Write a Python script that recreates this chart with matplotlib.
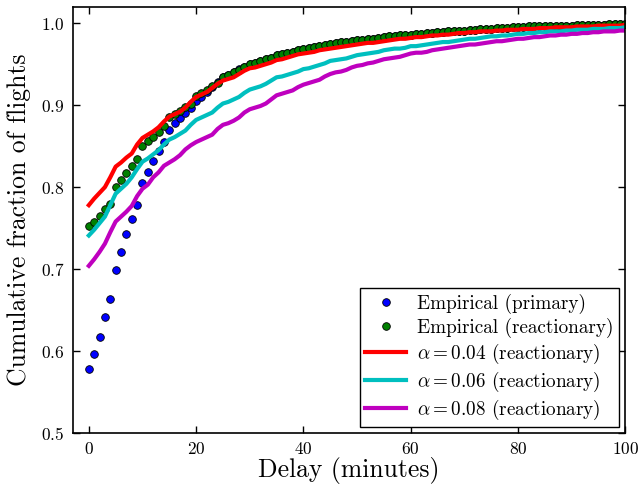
import numpy as np
import matplotlib
matplotlib.use("Agg")
import matplotlib.pyplot as plt

plt.rcParams['font.family'] = 'serif'
plt.rcParams['font.serif'] = ['cmr10', 'DejaVu Serif']
plt.rcParams['mathtext.fontset'] = 'cm'
plt.rcParams['axes.formatter.use_mathtext'] = True

# delay in minutes, one sample per minute
delay = np.arange(0, 101)

# empirical CDFs
primary = [
    0.578, 0.596, 0.617, 0.642, 0.663, 0.699, 0.721, 0.743, 0.761, 0.778,
    0.805, 0.819, 0.832, 0.844, 0.855, 0.870, 0.878, 0.884, 0.890, 0.896,
    0.905, 0.910, 0.916, 0.922, 0.928, 0.934, 0.937, 0.941, 0.944, 0.947,
    0.950, 0.952, 0.954, 0.956, 0.958, 0.961, 0.962, 0.964, 0.965, 0.967,
    0.969, 0.970, 0.971, 0.972, 0.973, 0.975, 0.976, 0.977, 0.977, 0.978,
    0.979, 0.980, 0.981, 0.981, 0.982, 0.983, 0.984, 0.984, 0.985, 0.985,
    0.986, 0.987, 0.987, 0.988, 0.988, 0.989, 0.989, 0.990, 0.990, 0.991,
    0.991, 0.992, 0.992, 0.993, 0.993, 0.993, 0.994, 0.994, 0.994, 0.995,
    0.995, 0.995, 0.996, 0.996, 0.996, 0.996, 0.997, 0.997, 0.997, 0.997,
    0.997, 0.998, 0.998, 0.998, 0.998, 0.998, 0.998, 0.999, 0.999, 0.999,
    0.999,
]
reactionary = [
    0.753, 0.758, 0.765, 0.773, 0.780, 0.800, 0.809, 0.817, 0.826, 0.834,
    0.850, 0.856, 0.861, 0.867, 0.874, 0.886, 0.889, 0.893, 0.898, 0.902,
    0.911, 0.915, 0.919, 0.923, 0.927, 0.934, 0.937, 0.940, 0.943, 0.946,
    0.950, 0.952, 0.954, 0.956, 0.958, 0.961, 0.962, 0.964, 0.965, 0.967,
    0.969, 0.970, 0.971, 0.972, 0.973, 0.975, 0.976, 0.977, 0.977, 0.978,
    0.979, 0.980, 0.981, 0.981, 0.982, 0.983, 0.984, 0.984, 0.985, 0.985,
    0.986, 0.987, 0.987, 0.988, 0.988, 0.989, 0.989, 0.990, 0.990, 0.991,
    0.991, 0.992, 0.992, 0.993, 0.993, 0.993, 0.994, 0.994, 0.994, 0.995,
    0.995, 0.995, 0.996, 0.996, 0.996, 0.996, 0.997, 0.997, 0.997, 0.997,
    0.997, 0.998, 0.998, 0.998, 0.998, 0.998, 0.998, 0.999, 0.999, 0.999,
    0.999,
]

# model CDFs for the reactionary delays
model_004 = [
    0.778, 0.786, 0.793, 0.800, 0.812, 0.825, 0.830, 0.836, 0.841, 0.852,
    0.860, 0.864, 0.868, 0.873, 0.880, 0.886, 0.889, 0.892, 0.897, 0.904,
    0.910, 0.913, 0.916, 0.921, 0.926, 0.930, 0.932, 0.934, 0.938, 0.942,
    0.945, 0.946, 0.948, 0.950, 0.952, 0.955, 0.956, 0.958, 0.960, 0.962,
    0.963, 0.964, 0.965, 0.967, 0.968, 0.969, 0.970, 0.971, 0.972, 0.973,
    0.974, 0.975, 0.976, 0.976, 0.977, 0.978, 0.979, 0.980, 0.981, 0.981,
    0.982, 0.983, 0.983, 0.984, 0.985, 0.985, 0.986, 0.986, 0.987, 0.988,
    0.988, 0.989, 0.989, 0.990, 0.990, 0.990, 0.991, 0.991, 0.992, 0.992,
    0.992, 0.993, 0.993, 0.993, 0.994, 0.994, 0.994, 0.995, 0.995, 0.995,
    0.995, 0.996, 0.996, 0.996, 0.996, 0.997, 0.997, 0.997, 0.997, 0.997,
    0.998,
]
model_006 = [
    0.741, 0.748, 0.756, 0.764, 0.778, 0.792, 0.798, 0.804, 0.812, 0.822,
    0.831, 0.835, 0.840, 0.845, 0.852, 0.858, 0.861, 0.865, 0.869, 0.876,
    0.882, 0.885, 0.888, 0.891, 0.897, 0.902, 0.904, 0.907, 0.910, 0.915,
    0.919, 0.921, 0.923, 0.926, 0.930, 0.934, 0.935, 0.937, 0.939, 0.941,
    0.944, 0.945, 0.947, 0.949, 0.951, 0.954, 0.955, 0.956, 0.957, 0.959,
    0.961, 0.962, 0.963, 0.964, 0.965, 0.967, 0.968, 0.969, 0.969, 0.970,
    0.972, 0.972, 0.973, 0.974, 0.975, 0.976, 0.977, 0.977, 0.978, 0.979,
    0.980, 0.981, 0.981, 0.982, 0.983, 0.984, 0.984, 0.985, 0.985, 0.986,
    0.987, 0.987, 0.988, 0.988, 0.989, 0.989, 0.990, 0.990, 0.990, 0.991,
    0.991, 0.992, 0.992, 0.992, 0.993, 0.993, 0.993, 0.994, 0.994, 0.994,
    0.995,
]
model_008 = [
    0.704, 0.712, 0.721, 0.731, 0.745, 0.758, 0.764, 0.770, 0.777, 0.789,
    0.798, 0.803, 0.812, 0.818, 0.826, 0.830, 0.834, 0.839, 0.846, 0.851,
    0.855, 0.858, 0.861, 0.864, 0.871, 0.876, 0.878, 0.881, 0.885, 0.891,
    0.895, 0.897, 0.899, 0.902, 0.907, 0.912, 0.914, 0.916, 0.918, 0.922,
    0.925, 0.927, 0.929, 0.931, 0.935, 0.938, 0.940, 0.941, 0.943, 0.946,
    0.948, 0.949, 0.951, 0.952, 0.954, 0.956, 0.957, 0.958, 0.959, 0.961,
    0.963, 0.964, 0.964, 0.965, 0.967, 0.968, 0.969, 0.970, 0.971, 0.972,
    0.973, 0.974, 0.974, 0.975, 0.976, 0.977, 0.978, 0.978, 0.979, 0.980,
    0.981, 0.981, 0.982, 0.983, 0.983, 0.984, 0.985, 0.985, 0.986, 0.986,
    0.987, 0.987, 0.988, 0.988, 0.989, 0.989, 0.990, 0.990, 0.990, 0.991,
    0.991,
]

fig = plt.figure(figsize=(6.38, 4.86), dpi=100)
ax = fig.add_axes([0.114, 0.109, 0.866, 0.877])

ax.plot(delay, primary, 'o', color='b', mec='k', mew=0.6, ms=5.5,
        label='Empirical (primary)')
ax.plot(delay, reactionary, 'o', color='g', mec='k', mew=0.6, ms=5.5,
        label='Empirical (reactionary)')
ax.plot(delay, model_004, '-', color='r', lw=3,
        label=r'$\alpha = 0.04$ (reactionary)')
ax.plot(delay, model_006, '-', color='c', lw=3,
        label=r'$\alpha = 0.06$ (reactionary)')
ax.plot(delay, model_008, '-', color='m', lw=3,
        label=r'$\alpha = 0.08$ (reactionary)')

ax.set_xlim(-3, 100)
ax.set_ylim(0.5, 1.02)
ax.set_xticks([0, 20, 40, 60, 80, 100])
ax.set_yticks([0.5, 0.6, 0.7, 0.8, 0.9, 1.0])
ax.tick_params(direction='in', top=True, right=True, length=5, width=1,
               labelsize=12.5, pad=6)
for sp in ax.spines.values():
    sp.set_linewidth(1.2)

ax.set_xlabel('Delay (minutes)', fontsize=18.5, labelpad=0)
ax.set_ylabel('Cumulative fraction of flights', fontsize=18.5, labelpad=7)

leg = ax.legend(loc='lower right', numpoints=1, fontsize=13.8,
                fancybox=False, framealpha=1, handlelength=2.1,
                handletextpad=0.6, borderpad=0.3, borderaxespad=0.3,
                labelspacing=0.2)
leg.get_frame().set_edgecolor('k')
leg.get_frame().set_linewidth(1.0)

fig.savefig('out.png', dpi=100)
